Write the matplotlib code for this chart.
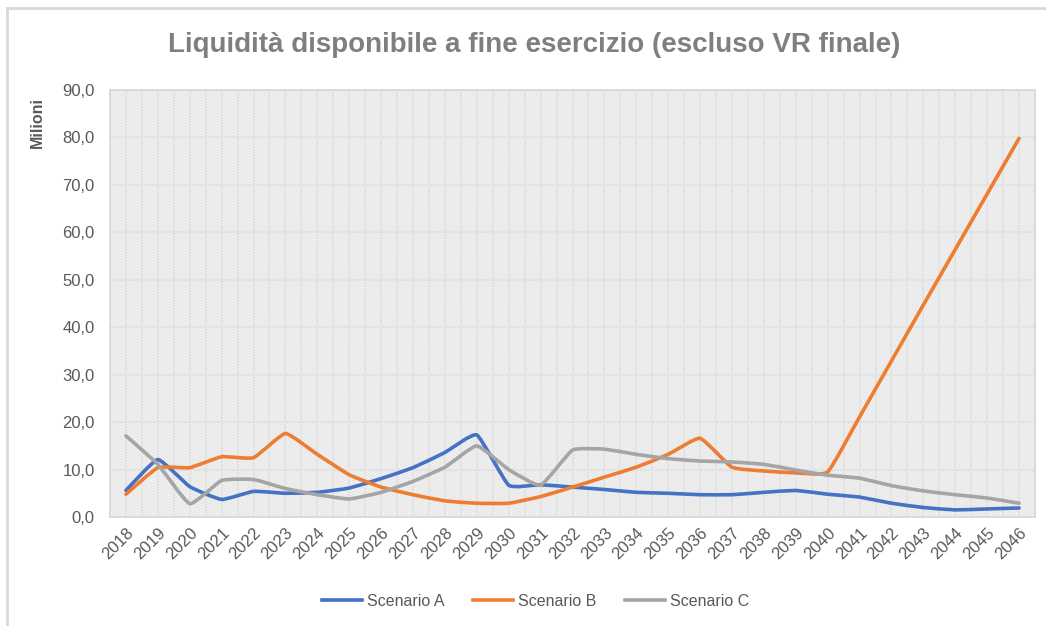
import numpy as np
import matplotlib.pyplot as plt
from matplotlib.path import Path
from matplotlib.patches import PathPatch, Rectangle
from matplotlib.lines import Line2D

plt.rcParams['font.family'] = ['Liberation Sans', 'DejaVu Sans']
plt.rcParams['hatch.linewidth'] = 0.8

# Data (milioni)
anni = [str(a) for a in range(2018, 2047)]
scenario_a = [5.6, 12.1, 6.4, 3.7, 5.4, 5.0, 5.2, 6.1, 8.1, 10.4, 13.6, 17.3,
              6.7, 6.8, 6.3, 5.8, 5.2, 5.0, 4.7, 4.7, 5.2, 5.6, 4.8, 4.2,
              2.9, 2.0, 1.5, 1.7, 1.9]
scenario_b = [4.8, 10.4, 10.4, 12.7, 12.5, 17.6, 13.2, 8.9, 6.3, 4.7, 3.4, 2.9,
              2.9, 4.3, 6.3, 8.4, 10.5, 13.2, 16.6, 10.5, 9.7, 9.3, 9.5, 21.1,
              32.9, 44.7, 56.4, 68.1, 79.8]
scenario_c = [17.1, 11.1, 2.8, 7.7, 7.9, 6.0, 4.7, 3.8, 5.2, 7.5, 10.5, 15.0,
              10.0, 6.7, 14.1, 14.3, 13.2, 12.3, 11.8, 11.6, 11.1, 9.9, 8.8, 8.2,
              6.6, 5.5, 4.7, 4.0, 2.9]

serie = [('Scenario A', scenario_a, '#4472C4'),
         ('Scenario B', scenario_b, '#ED7D31'),
         ('Scenario C', scenario_c, '#A5A5A5')]

testo = '#595959'


def curva_smussata(x, y, t=0.07):
    # Bezier path through the points, lightly smoothed line
    pts = np.column_stack([x, y]).astype(float)
    verts = [pts[0]]
    codes = [Path.MOVETO]
    n = len(pts)
    for i in range(n - 1):
        p0 = pts[i - 1] if i > 0 else pts[i]
        p1, p2 = pts[i], pts[i + 1]
        p3 = pts[i + 2] if i + 2 < n else pts[i + 1]
        c1 = p1 + (p2 - p0) * t
        c2 = p2 - (p3 - p1) * t
        verts += [c1, c2, p2]
        codes += [Path.CURVE4] * 3
    return Path(verts, codes)


fig = plt.figure(figsize=(10.46, 6.26), dpi=100)
ax = fig.add_axes([110 / 1046, 1 - 517 / 626, 925 / 1046, 427 / 626])

x = np.arange(len(anni))
ax.set_xlim(-0.5, len(anni) - 0.5)
ax.set_ylim(0, 90)

# hatched background of the plot area
ax.add_patch(Rectangle((0, 0), 1, 1, transform=ax.transAxes, facecolor='white',
                       edgecolor='#dedede', hatch='\\\\\\\\\\\\\\\\\\\\\\\\', lw=0, zorder=0))

for xv in np.arange(-0.5, len(anni), 0.5):
    ax.axvline(xv, color='#e3e3e3', lw=1.3, zorder=1)
for yv in range(10, 91, 10):
    ax.axhline(yv, color='#e3e3e3', lw=1.5, zorder=1)

for nome, valori, colore in serie:
    ax.add_patch(PathPatch(curva_smussata(x, valori), facecolor='none', edgecolor=colore,
                           lw=2.6, capstyle='round', joinstyle='round', zorder=3))

for s in ax.spines.values():
    s.set_color('#d9d9d9')
    s.set_linewidth(1.3)

ax.set_xticks(x)
ax.set_xticklabels(anni, rotation=45, ha='right', rotation_mode='anchor')
ax.set_yticks(range(0, 91, 10))
ax.set_yticklabels([f'{v:.1f}'.replace('.', ',') for v in range(0, 91, 10)])
ax.tick_params(axis='both', length=0, labelsize=12, labelcolor=testo)
ax.tick_params(axis='x', pad=6)
ax.tick_params(axis='y', pad=11)

ax.set_ylabel('Milioni', fontsize=11.5, fontweight='bold', color=testo)
ax.yaxis.set_label_coords(-0.07, 0.925)

fig.text(0.511, 1 - 45 / 626, 'Liquidità disponibile a fine esercizio (escluso VR finale)',
         ha='center', va='center', fontsize=20, fontweight='bold', color='#7f7f7f')

handles = [Line2D([], [], color=c, lw=2.6) for _, _, c in serie]
fig.legend(handles, [n for n, _, _ in serie], loc='center', ncol=3,
           bbox_to_anchor=(0.512, 1 - 601 / 626), frameon=False, fontsize=11.5,
           labelcolor=testo, handlelength=2.5, columnspacing=1.8, handletextpad=0.3)

# chart area border
fig.add_artist(Line2D([7 / 1046, 7 / 1046], [0, 1 - 8 / 626], color='#d9d9d9', lw=2,
                      transform=fig.transFigure))
fig.add_artist(Line2D([7 / 1046, 1], [1 - 8 / 626, 1 - 8 / 626], color='#d9d9d9', lw=2,
                      transform=fig.transFigure))

fig.savefig('out.png', dpi=100)
